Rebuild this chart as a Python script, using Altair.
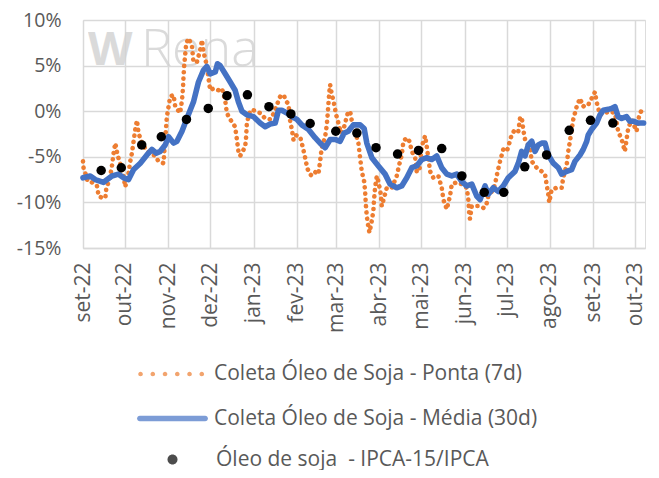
import altair as alt
import pandas as pd

FONT = "Open Sans"
TXT = "#595959"
GRID = "#D9D9D9"
ORANGE = "#ED7D31"
BLUE = "#4472C4"

SERIE_PONTA = "Coleta Óleo de Soja - Ponta (7d)"
SERIE_MEDIA = "Coleta Óleo de Soja - Média (30d)"
SERIE_IPCA = "Óleo de soja\u00a0 - IPCA-15/IPCA"

MESES = ["jan", "fev", "mar", "abr", "mai", "jun", "jul", "ago", "set", "out", "nov", "dez"]

# days since 2022-09-01, values in %
media_dias = [0, 5.2, 8.8, 14.7, 20.7, 25.4, 29, 32.6, 36.2, 41, 45.7, 49.3, 52.4, 55.3, 58.8,
              61.2, 64.8, 67.2, 70.8, 74.3, 79, 82.6, 86.2, 88.6, 91, 94.6, 96.2, 98.1, 101.7,
              105.3, 108.8, 111.2, 113.7, 117.2, 122, 126.7, 130.3, 133.9, 137.5, 139.8, 142.2,
              145.8, 149.4, 153, 156.5, 161.3, 166, 169.6, 173.2, 176.8, 180.3, 183.9, 186.8,
              189.8, 193.4, 198.2, 201.1, 203, 206.6, 211.3, 216.1, 219.7, 224.4, 228, 231.6,
              235.2, 238.7, 242.3, 245.9, 249.5, 253, 256.6, 260.2, 263.8, 267.3, 270.9, 274.5,
              278.1, 281.6, 284, 287.6, 289.9, 293.5, 297.1, 300.6, 304.2, 309, 311.4, 313.8,
              316.2, 318.5, 321, 323.3, 325.7, 328.1, 330.5, 332.8, 336.4, 340, 342.4, 346,
              349.5, 351.9, 355.5, 357.8, 360.3, 361.4, 363.8, 367.4, 369.8, 372.1, 375.7,
              378.1, 380.5, 382.8, 385.3, 388.8, 391.2, 393.6, 397.2, 401]
media_vals = [-7.3, -7.1, -7.5, -7.8, -7.1, -6.9, -7.3, -7.5, -6.4, -5.7, -4.8, -4.2, -4.6, -4.4, -3.7,
              -2.8, -3.5, -3.3, -2.2, -0.8, 1.0, 3.2, 4.5, 4.9, 4.1, 4.3, 5.2, 5.0, 4.1,
              3.2, 2.3, 1.0, 0.0, -0.4, -0.6, -1.3, -1.7, -1.4, -1.3, 0.1, 0.1,
              -0.2, -0.6, -0.9, -1.5, -2.0, -2.9, -3.5, -4.0, -3.1, -3.1, -3.3, -2.4,
              -2.2, -1.5, -1.5, -1.9, -3.5, -5.1, -6.0, -6.9, -8.0, -8.4, -8.2, -7.3,
              -6.2, -6.0, -5.3, -5.1, -5.3, -4.9, -6.2, -6.9, -7.1, -6.9, -7.7, -8.2,
              -8.0, -9.3, -9.7, -8.2, -9.1, -8.4, -8.8, -8.2, -7.3, -6.6, -5.7, -4.4,
              -4.9, -3.7, -3.3, -4.4, -3.7, -3.5, -3.5, -4.8, -5.7, -6.2, -6.9, -6.6,
              -6.4, -5.5, -4.8, -4.2, -3.3, -2.6, -2.0, -1.3, -0.4, 0.1, 0.2,
              0.3, 0.5, -0.6, -0.8, -0.6, -1.1, -1.1, -1.3, -1.3]

ponta_dias = [0, 0.5, 1.6, 3.3, 6.4, 10, 11.2, 13.6, 16, 16.7, 19, 20.7, 21.9, 23.1, 24.7,
              26.7, 29, 30.2, 32.6, 33.8, 35, 36.2, 37.4, 38.6, 39.7, 42.2, 45.7, 51.7, 54,
              57.6, 58.8, 60, 62.4, 64.8, 66, 69.5, 70.8, 71.5, 71.9, 72.4, 73.8, 75.5, 77.9,
              79, 81.5, 83.8, 85.1, 86.2, 88.6, 89.8, 91, 93.4, 96.9, 99.4, 101.7, 102.9,
              105.3, 108.8, 110.1, 111.2, 112.4, 116, 116.7, 117.2, 119.6, 122, 126.7, 130.3,
              133.9, 136.2, 141, 143.4, 145.8, 147, 148.2, 149.4, 150.5, 151.7, 155.3, 157.3,
              158.9, 160.5, 163, 165.3, 168.4, 169.6, 170.8, 173.2, 174.4, 175, 175.6, 176.2,
              176.8, 178, 179.1, 181.1, 182.7, 184.4, 186.3, 187.5, 189.4, 191.1, 192.3,
              194.6, 197, 198.2, 199.4, 201.1, 201.8, 202.3, 203, 204.1, 204.9, 206.6, 207.7,
              208.2, 208.9, 210.2, 211.3, 213, 213.7, 217.3, 220.9, 224.4, 226.3, 228, 229.2,
              231.6, 233.5, 235.2, 237.6, 238.7, 240.6, 242.3, 244.7, 245.9, 248.3, 250.6,
              254.2, 256.6, 257.8, 260.2, 262.5, 263.8, 267.3, 270.9, 274.5, 275.7, 276.3,
              276.8, 278.1, 280.4, 284, 286.4, 288.3, 289.9, 293.5, 294.7, 296.4, 298.3,
              300.6, 303.1, 304.2, 306.6, 309, 311.4, 312.6, 313.8, 314.9, 316.2, 319.7, 321,
              324.5, 328.1, 330.5, 331.6, 332.8, 333.5, 335.2, 338.8, 342.4, 343.5, 346,
              347.1, 348.3, 350.7, 353.1, 355.5, 357.8, 359, 361.4, 364.5, 366.2, 367.4,
              369.8, 373.3, 376.9, 380.5, 382.8, 385.3, 387.6, 388.8, 390, 392.4, 396, 397.9,
              399.6, 400.8]
ponta_vals = [-5.5, -6.4, -6.75, -7.7, -7.8, -8.2, -9.3, -9.5, -9.5, -8.4, -7.5, -6.0, -4.6, -3.5, -4.8,
              -5.8, -7.1, -8.3, -6.75, -5.5, -4.6, -3.3, -2.0, -1.0, -2.4, -3.5, -4.4, -4.9, -5.5,
              -5.7, -3.1, -0.6, 1.6, 1.8, 0.5, -0.2, 1.2, 2.5, 3.8, 5.0, 7.4, 8.0, 7.2,
              5.4, 5.4, 6.7, 7.8, 6.5, 5.0, 3.6, 2.3, 2.5, 2.3, 2.5, 1.2, -0.2,
              -0.9, -1.7, -3.1, -4.4, -4.9, -3.9, -2.8, -1.3, 0.1, 0.1, -0.2, -0.8,
              -0.9, -0.3, 1.6, 1.8, 1.0, 0.8, -1.1, -2.0, -3.1, -2.6, -2.8, -4.0,
              -5.1, -6.3, -7.0, -6.6, -6.9, -5.5, -4.0, -2.8, -1.5, -0.4, 0.9, 2.1,
              2.9, 1.8, 1.2, -0.4, -1.3, -2.4, -2.0, -1.3, -0.2, 0.0, -1.1,
              -2.2, -3.5, -5.1, -6.6, -7.7, -8.8, -10.2, -11.5, -12.7, -13.3, -12.0, -10.9,
              -9.7, -8.4, -7.1, -7.7, -9.1, -10.4, -8.4, -8.4, -7.1, -5.8, -4.8, -3.3,
              -2.9, -3.3, -4.4, -5.1, -6.6, -6.6, -3.9, -2.7, -3.9, -6.6, -7.3,
              -7.1, -8.4, -9.7, -10.75, -9.3, -8.0, -7.8, -8.0, -8.4, -9.8, -11.3,
              -11.8, -10.4, -10.4, -10.4, -10.6, -10.4, -9.3, -8.6, -8.0, -6.75, -5.5,
              -4.2, -4.4, -3.9, -2.6, -2.0, -2.2, -0.8, -0.6, -2.0, -3.1, -4.0, -5.5,
              -6.2, -6.6, -6.9, -8.0, -9.1, -10.0, -8.6, -8.4, -8.4, -7.3, -5.85,
              -4.4, -3.3, -0.9, 0.5, 1.4, 0.5, 0.7, 0.7, 1.6, 2.1, 1.0,
              -0.4, -0.2, 0.0, -0.2, -2.2, -3.1, -4.4, -3.1, -1.85, -0.95, -2.2, -0.4,
              0.1, 0.3]

ipca_dias = [13, 27.4, 42, 56, 74, 89.6, 103, 117.6, 133, 148.7, 162.5, 180.8, 195.9,
             209.6, 225, 240, 256.6, 271, 287, 301, 316, 331.6, 347.8, 363, 379]
ipca_vals = [-6.5, -6.2, -3.7, -2.8, -0.9, 0.3, 1.7, 1.8, 0.5, -0.3, -1.35, -2.2, -2.4,
             -4.0, -4.7, -4.3, -4.1, -7.1, -8.9, -8.9, -6.1, -4.8, -2.1, -1.0, -1.3]

base = pd.Timestamp("2022-09-01")


def frame(dias, vals):
    return pd.DataFrame({"data": base + pd.to_timedelta(dias, unit="D"), "v": vals})


df_media = frame(media_dias, media_vals)
df_ponta = frame(ponta_dias, ponta_vals)
df_ipca = frame(ipca_dias, ipca_vals)

label_expr = ("['" + "','".join(MESES) + "'][month(datum.value)] + '-' + timeFormat(datum.value, '%y')")

X = alt.X(
    "data:T",
    scale=alt.Scale(domain=[alt.DateTime(year=2022, month=9, date=1),
                            alt.DateTime(year=2023, month=10, date=8)], nice=False),
    axis=alt.Axis(title=None, tickCount={"interval": "month", "step": 1}, labelExpr=label_expr,
                  labelAngle=270, labelAlign="right", labelBaseline="middle", labelPadding=14,
                  labelFont=FONT, labelFontSize=21, labelColor=TXT, labelOverlap=False,
                  labelBound=False, labelFlush=False, ticks=False, domainColor=GRID, domainWidth=1.5,
                  grid=True, gridColor=GRID, gridWidth=1.5),
)
Y = alt.Y(
    "v:Q",
    scale=alt.Scale(domain=[-15, 10], nice=False, zero=False),
    axis=alt.Axis(title=None, values=[-15, -10, -5, 0, 5, 10], labelExpr="datum.value + '%'",
                  labelFont=FONT, labelFontSize=19.5, labelColor=TXT, labelPadding=22,
                  domain=False, ticks=False, grid=True, gridColor=GRID, gridWidth=1.5),
)

# watermark
wm_w = alt.Chart(pd.DataFrame({"t": ["W"]})).mark_text(
    font=FONT, fontSize=46, fontWeight="bold", color="#D2D2D2", align="left", baseline="alphabetic",
    opacity=0.8).encode(text="t:N", x=alt.value(5), y=alt.value(45))
wm_r = alt.Chart(pd.DataFrame({"t": ["Rena"]})).mark_text(
    font=FONT, fontSize=52, fontWeight=300, color="#D2D2D2", align="left", baseline="alphabetic",
    opacity=0.8).encode(text="t:N", x=alt.value(58), y=alt.value(46))

ponta = alt.Chart(df_ponta).mark_line(
    color=ORANGE, strokeWidth=4.6, strokeDash=[0.1, 6.2], strokeCap="round", strokeJoin="round"
).encode(x=X, y=Y)
media = alt.Chart(df_media).mark_line(
    color=BLUE, strokeWidth=5.6, strokeCap="round", strokeJoin="round"
).encode(x=X, y=Y)
ipca = alt.Chart(df_ipca).mark_circle(color="black", size=90, opacity=1).encode(x=X, y=Y)

# legend symbols (unit box -1..1)
r = 0.065
DOTS = " ".join(
    f"M{cx - r:.3f},0 a{r},{r} 0 1,0 {2 * r},0 a{r},{r} 0 1,0 {-2 * r},0 Z"
    for cx in [-0.9 + 0.345 * i for i in range(6)]
)
BAR = "M-0.92,-0.078 L0.92,-0.078 A0.078,0.078 0 0,1 0.92,0.078 L-0.92,0.078 A0.078,0.078 0 0,1 -0.92,-0.078 Z"
rc = 0.5
DOT = f"M{-rc},0 a{rc},{rc} 0 1,0 {2 * rc},0 a{rc},{rc} 0 1,0 {-2 * rc},0 Z"


def leg_layer(name, color, field, lx, ly, symbol, size, offset):
    return alt.Chart(pd.DataFrame({field: [name]})).transform_filter("false").mark_circle().encode(
        color=alt.Color(f"{field}:N", scale=alt.Scale(domain=[name], range=[color]),
                        legend=alt.Legend(title=None, orient="none", legendX=lx, legendY=ly, padding=0,
                                          symbolType=symbol, symbolSize=size, symbolStrokeWidth=0,
                                          labelOffset=offset, labelFont=FONT, labelFontSize=21,
                                          labelColor=TXT, labelLimit=600))
    )


leg1 = leg_layer(SERIE_PONTA, ORANGE, "s1", 54, 318.5, DOTS, 5041, 6)
leg2 = leg_layer(SERIE_MEDIA, BLUE, "s2", 54, 363, BAR, 5041, 6)
leg3 = leg_layer(SERIE_IPCA, "black", "s3", 79, 429, DOT, 400, 33)

chart = alt.layer(wm_w, wm_r, ponta, media, ipca, leg1, leg2, leg3).resolve_scale(
    color="independent"
).resolve_legend(color="independent").properties(
    width=562, height=228,
    autosize=alt.AutoSizeParams(type="none"),
    padding={"left": 75, "top": 12, "right": 6, "bottom": 222},
).configure_view(stroke=None).configure(background="white")

chart.save("out.html", embed_options={"renderer": "svg", "actions": False})
